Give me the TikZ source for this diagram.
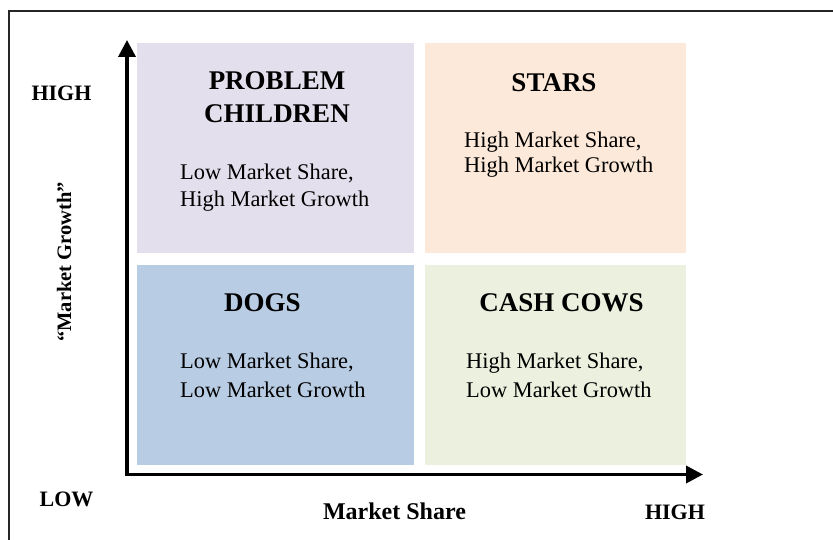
\documentclass[tikz,border=0pt]{standalone}
\usepackage{fontspec}
\setmainfont{Liberation Serif}
\usetikzlibrary{arrows.meta}
\definecolor{pcfill}{HTML}{E4DFEC}
\definecolor{starfill}{HTML}{FDE9D9}
\definecolor{dogfill}{HTML}{B8CCE4}
\definecolor{cowfill}{HTML}{EBF1DE}
\tikzset{
  quad/.style={draw=none, inner sep=0pt, outer sep=0pt},
  title/.style={font=\fontsize{27}{33}\selectfont\bfseries, inner sep=0pt, anchor=base},
  body/.style={font=\fontsize{22.4}{27}\selectfont, inner sep=0pt, anchor=base west},
  axislabel/.style={font=\fontsize{22}{26}\selectfont\bfseries, inner sep=0pt, anchor=base},
  axisline/.style={line width=3.6pt, line join=miter, {Triangle[width=17pt,length=17pt]}-{Triangle[width=17pt,length=17pt]}},
  frameline/.style={line width=1.6pt, draw=black!85}
}
\begin{document}
\begin{tikzpicture}[x=1pt,y=-1pt]
\useasboundingbox (0,0) rectangle (833,540);
% outer frame
\coordinate (fbl) at (9,541);
\coordinate (ftl) at (9,11);
\coordinate (ftr) at (834,11);
\draw[frameline] (fbl) -- (ftl) -- (ftr);
% quadrants
\node[quad, fill=pcfill, minimum width=277, minimum height=210] (pc) at (275.5,148) {};
\node[quad, fill=starfill, minimum width=261, minimum height=210] (stars) at (555.5,148) {};
\node[quad, fill=dogfill, minimum width=277, minimum height=200] (dogs) at (275.5,365) {};
\node[quad, fill=cowfill, minimum width=261, minimum height=200] (cows) at (555.5,365) {};
% axes
\coordinate (ytip) at (127,40);
\coordinate (origin) at (127,474.5);
\coordinate (xtip) at (703,474.5);
\draw[axisline] (ytip) -- (origin) -- (xtip);
% titles
\node[title] (t1a) at (277,90) {PROBLEM};
\node[title] (t1b) at (277,123) {CHILDREN};
\node[title] (t2) at (554,92) {STARS};
\node[title] (t3) at (262.5,312) {DOGS};
\node[title] (t4) at (561.5,311) {CASH COWS};
% bodies
\node[body] (b1a) at (180,180) {Low Market Share,};
\node[body] (b1b) at (180,207) {High Market Growth};
\node[body] (b2a) at (464,148) {High Market Share,};
\node[body] (b2b) at (464,173) {High Market Growth};
\node[body] (b3a) at (180,368) {Low Market Share,};
\node[body] (b3b) at (180,397) {Low Market Growth};
\node[body] (b4a) at (466,368) {High Market Share,};
\node[body] (b4b) at (466,397) {Low Market Growth};
% axis labels
\node[axislabel] (yhigh) at (61.5,101) {HIGH};
\node[axislabel] (low) at (66.5,506.5) {LOW};
\node[axislabel, font=\fontsize{24}{28}\selectfont\bfseries] (xlab) at (394.5,519) {Market Share};
\node[axislabel] (xhigh) at (675,519) {HIGH};
\node[axislabel, font=\fontsize{20.5}{24}\selectfont\bfseries, rotate=90] (ylab) at (71,262) {“Market Growth”};
\end{tikzpicture}
\end{document}
